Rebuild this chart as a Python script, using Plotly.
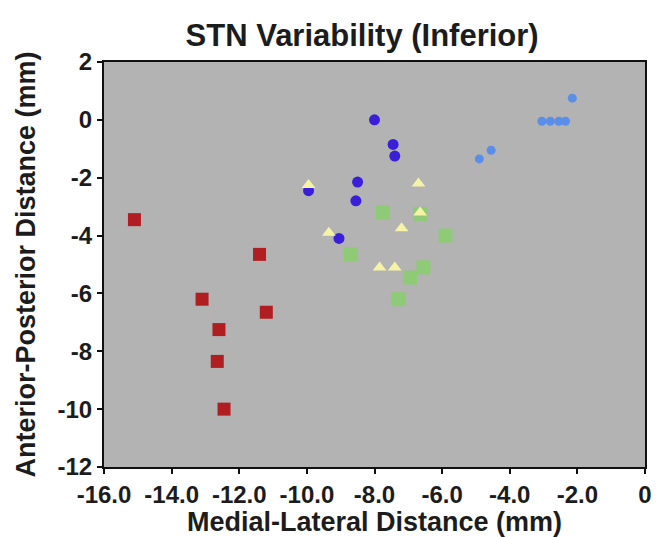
import plotly.graph_objects as go

# Medial-lateral (x) and anterior-posterior (y) positions in mm, per group
red_x = [-15.1, -11.4, -13.1, -11.2, -12.6, -12.65, -12.45]
red_y = [-3.45, -4.65, -6.2, -6.65, -7.25, -8.35, -10.0]

blue_x = [-8.0, -7.45, -7.4, -8.5, -8.55, -9.95, -9.05]
blue_y = [0.0, -0.85, -1.25, -2.15, -2.8, -2.45, -4.1]

green_x = [-7.75, -6.65, -5.9, -8.7, -6.55, -6.95, -7.3]
green_y = [-3.2, -3.25, -4.0, -4.65, -5.1, -5.45, -6.2]

yellow_x = [-9.95, -6.7, -6.65, -7.2, -9.35, -7.85, -7.4]
yellow_y = [-2.25, -2.2, -3.2, -3.75, -3.9, -5.1, -5.1]

lblue_x = [-2.15, -3.05, -2.8, -2.55, -2.35, -4.55, -4.9]
lblue_y = [0.75, -0.05, -0.05, -0.05, -0.05, -1.05, -1.35]

x_ticks = [-16, -14, -12, -10, -8, -6, -4, -2, 0]
x_tick_text = ["-16.0", "-14.0", "-12.0", "-10.0", "-8.0", "-6.0", "-4.0", "-2.0", "0"]
y_ticks = [2, 0, -2, -4, -6, -8, -10, -12]
y_tick_text = ["2", "0", "-2", "-4", "-6", "-8", "-10", "-12"]

FONT = "Liberation Sans, Arial, Helvetica, sans-serif"
INK = "#1c1c1c"

fig = go.Figure()

fig.add_trace(go.Scatter(
    x=red_x, y=red_y, mode="markers",
    marker=dict(symbol="square", size=13, color="#b01e22",
                line=dict(width=0)),
))
fig.add_trace(go.Scatter(
    x=green_x, y=green_y, mode="markers",
    marker=dict(symbol="square", size=14, color="#86d066", opacity=0.8,
                line=dict(width=0)),
))
fig.add_trace(go.Scatter(
    x=blue_x, y=blue_y, mode="markers",
    marker=dict(symbol="circle", size=11, color="#3a1ed8",
                line=dict(width=0)),
))
fig.add_trace(go.Scatter(
    x=yellow_x, y=yellow_y, mode="markers",
    marker=dict(symbol="triangle-up", size=12, color="#f5f3a8",
                line=dict(width=0)),
))
fig.add_trace(go.Scatter(
    x=lblue_x, y=lblue_y, mode="markers",
    marker=dict(symbol="circle", size=9, color="#5b8ee8",
                line=dict(width=0)),
))

fig.update_layout(
    width=656, height=537,
    margin=dict(l=104, r=11, t=62, b=70),
    paper_bgcolor="white",
    plot_bgcolor="#b3b3b3",
    showlegend=False,
    font=dict(family=FONT, color=INK),
    title=dict(
        text="<b>STN Variability (Inferior)</b>",
        x=0.552, xanchor="center", y=0.935, yanchor="middle",
        font=dict(size=31, family=FONT, color=INK),
    ),
)

fig.update_xaxes(
    range=[-16, 0], tickvals=x_ticks, ticktext=[f"<b>{t}</b>" for t in x_tick_text],
    tickfont=dict(size=24, family=FONT, color=INK),
    showgrid=False, zeroline=False, automargin=False,
    showline=True, linecolor="#111", linewidth=2, mirror=True,
    ticks="outside", ticklen=5, tickwidth=2, tickcolor="#111",
    title=dict(text="<b>Medial-Lateral Distance (mm)</b>",
               font=dict(size=27, family=FONT, color=INK), standoff=5),
)
fig.update_yaxes(
    range=[-12, 2], tickvals=y_ticks, ticktext=[f"<b>{t}</b>" for t in y_tick_text],
    tickfont=dict(size=24, family=FONT, color=INK),
    showgrid=False, zeroline=False, automargin=False,
    showline=True, linecolor="#111", linewidth=2, mirror=True,
    ticks="outside", ticklen=5, tickwidth=2, tickcolor="#111",
    title=dict(text="<b>Anterior-Posterior Distance (mm)</b>",
               font=dict(size=27, family=FONT, color=INK), standoff=14),
)

fig.write_html("out.html")
